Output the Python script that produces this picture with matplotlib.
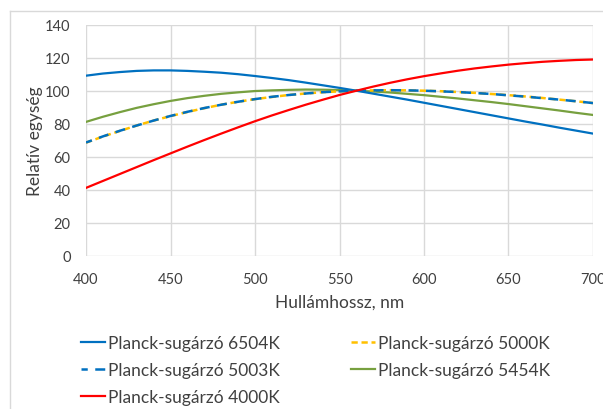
import matplotlib
matplotlib.use('Agg')
import matplotlib.pyplot as plt
from matplotlib.lines import Line2D

plt.rcParams['font.family'] = ['Lato', 'DejaVu Sans']

# DATA (relative units normalised at 560 nm)
wavelength = [400, 410, 420, 430, 440, 450, 460, 470, 480, 490, 500,
              510, 520, 530, 540, 550, 560, 570, 580, 590, 600,
              610, 620, 630, 640, 650, 660, 670, 680, 690, 700]

planck_6504 = [109.1, 110.4, 111.3, 112.0, 112.3, 112.3, 112.0, 111.5, 110.9, 110.0, 108.9,
               107.7, 106.4, 104.9, 103.3, 101.7, 100.0, 98.2, 96.4, 94.6, 92.7,
               90.8, 88.9, 87.0, 85.1, 83.2, 81.3, 79.5, 77.6, 75.8, 74.0]
planck_5000 = [68.5, 72.2, 75.6, 78.9, 81.9, 84.6, 87.1, 89.4, 91.5, 93.3, 94.9,
               96.2, 97.4, 98.3, 99.1, 99.6, 100.0, 100.2, 100.3, 100.2, 100.0,
               99.7, 99.2, 98.7, 98.0, 97.3, 96.5, 95.6, 94.6, 93.6, 92.5]
planck_5003 = [68.6, 72.3, 75.7, 78.9, 81.9, 84.7, 87.2, 89.5, 91.5, 93.3, 94.9,
               96.3, 97.4, 98.3, 99.1, 99.6, 100.0, 100.2, 100.3, 100.2, 100.0,
               99.6, 99.2, 98.6, 98.0, 97.2, 96.4, 95.5, 94.6, 93.6, 92.5]
planck_5454 = [81.1, 84.2, 87.0, 89.6, 91.8, 93.8, 95.5, 96.9, 98.1, 99.0, 99.8,
               100.2, 100.5, 100.7, 100.6, 100.4, 100.0, 99.5, 98.9, 98.1, 97.3,
               96.3, 95.3, 94.2, 93.1, 91.9, 90.6, 89.3, 88.0, 86.6, 85.3]
planck_4000 = [41.1, 45.3, 49.5, 53.7, 57.9, 62.0, 66.1, 70.1, 74.0, 77.8, 81.5,
               85.0, 88.3, 91.5, 94.5, 97.4, 100.0, 102.5, 104.8, 106.9, 108.8,
               110.5, 112.1, 113.5, 114.7, 115.8, 116.7, 117.5, 118.1, 118.6, 118.9]

x_ticks = [400, 450, 500, 550, 600, 650, 700]
y_ticks = [0, 20, 40, 60, 80, 100, 120, 140]

text_col = '#404040'
grid_col = '#D9D9D9'

fig = plt.figure(figsize=(6.03, 4.10), dpi=100)
ax = fig.add_axes([86/603, 1-256.7/410, (593-86)/603, (256.7-25.7)/410])

l6504, = ax.plot(wavelength, planck_6504, color='#0070C0', lw=1.6, label='Planck-sugárzó 6504K', zorder=5)
l5000, = ax.plot(wavelength, planck_5000, color='#FFC000', lw=1.8, ls=(0, (2.5, 1.5)), label='Planck-sugárzó 5000K', zorder=3)
l5003, = ax.plot(wavelength, planck_5003, color='#0070C0', lw=1.8, ls=(1.5, (4, 3)), label='Planck-sugárzó 5003K', zorder=4)
l5454, = ax.plot(wavelength, planck_5454, color='#77A03F', lw=1.6, label='Planck-sugárzó 5454K', zorder=2)
l4000, = ax.plot(wavelength, planck_4000, color='#FF0000', lw=1.6, label='Planck-sugárzó 4000K', zorder=6)

ax.set_xlim(400, 700)
ax.set_ylim(0, 140)
ax.set_xticks(x_ticks)
ax.set_yticks(y_ticks)
ax.grid(True, color=grid_col, lw=1)
ax.set_axisbelow(True)
for s in ax.spines.values():
    s.set_visible(False)
ax.tick_params(length=0, labelsize=10.5, labelcolor=text_col)
ax.tick_params(axis='y', pad=11)
ax.tick_params(axis='x', pad=11.5)

ax.set_xlabel('Hullámhossz, nm', fontsize=12.5, color=text_col, labelpad=6)
ax.set_ylabel('Relatív egység', fontsize=12.5, color=text_col, labelpad=1.5)

# LEGEND (column-wise fill: 6504, 5003, 4000 | 5000, 5454)
handles = [l6504, l5003, l4000, l5000, l5454]
leg = fig.legend(handles=handles, loc='upper left', bbox_to_anchor=(65/603, 1-320/410),
                 ncol=2, frameon=False, fontsize=12.5, handlelength=1.38, handletextpad=0.18,
                 labelspacing=0.65, columnspacing=4.1, labelcolor=text_col)

# chart frame
fig.add_artist(Line2D([9.5/603, 1], [1-11.5/410, 1-11.5/410], color=grid_col, lw=1))
fig.add_artist(Line2D([9.5/603, 9.5/603], [0, 1-11.5/410], color=grid_col, lw=1))

fig.savefig('out.png', dpi=100)
